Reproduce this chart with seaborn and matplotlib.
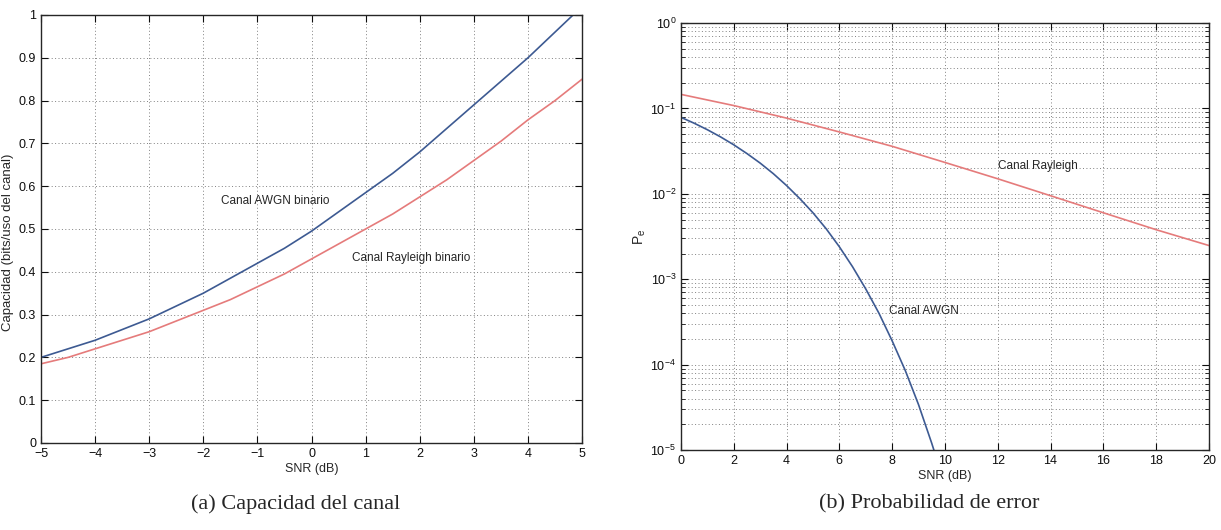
import numpy as np
import pandas as pd
import matplotlib
matplotlib.use("Agg")
import matplotlib.pyplot as plt
import seaborn as sns
from matplotlib.ticker import LogLocator, NullFormatter

# (a) capacidad del canal
snr_cap = [-5, -4.5, -4, -3.5, -3, -2.5, -2, -1.5, -1, -0.5, 0,
           0.5, 1, 1.5, 2, 2.5, 3, 3.5, 4, 4.5, 5]
cap_awgn = [0.200, 0.220, 0.240, 0.265, 0.290, 0.320, 0.350, 0.385, 0.420, 0.455, 0.495,
            0.540, 0.585, 0.630, 0.680, 0.735, 0.790, 0.845, 0.900, 0.960, 1.020]
cap_rayleigh = [0.185, 0.200, 0.220, 0.240, 0.260, 0.285, 0.310, 0.335, 0.365, 0.395, 0.430,
                0.465, 0.500, 0.535, 0.575, 0.615, 0.660, 0.705, 0.755, 0.800, 0.850]

# (b) probabilidad de error
snr_pe_awgn = [0, 0.5, 1, 1.5, 2, 2.5, 3, 3.5, 4, 4.5, 5, 5.5, 6, 6.5, 7, 7.5,
               8, 8.5, 9, 9.5, 10]
pe_awgn = [0.0786, 0.0671, 0.0563, 0.0464, 0.0375, 0.0296, 0.0229, 0.0172, 0.0125,
           0.0088, 0.0060, 0.0039, 0.0024, 0.0014, 0.00077, 0.00040, 0.00019,
           8.5e-5, 3.4e-5, 1.2e-5, 3.9e-6]
snr_pe_ray = [0, 2, 4, 6, 8, 10, 12, 14, 16, 18, 20]
pe_rayleigh = [0.146, 0.108, 0.077, 0.053, 0.036, 0.0233, 0.0150, 0.0095, 0.0060,
               0.0038, 0.00248]

blue = "#3d5a92"
red = "#e57b7b"

sns.set_style("ticks")
plt.rcParams["font.family"] = ["Liberation Sans", "DejaVu Sans"]
plt.rcParams["mathtext.fontset"] = "custom"
plt.rcParams["mathtext.rm"] = "Liberation Sans"
plt.rcParams["mathtext.it"] = "Liberation Sans"

fig = plt.figure(figsize=(12.21, 5.30), dpi=100)
ax1 = fig.add_axes([0.0336, 0.1642, 0.4431, 0.8075])
ax2 = fig.add_axes([0.5577, 0.1509, 0.4324, 0.8057])

grid_kw = dict(linestyle=(0, (1, 2.5)), color="0.5", linewidth=0.7)

# ---- panel a
df_a = pd.DataFrame({"snr": snr_cap * 2,
                     "cap": cap_awgn + cap_rayleigh,
                     "canal": ["awgn"] * len(snr_cap) + ["rayleigh"] * len(snr_cap)})
sns.lineplot(data=df_a, x="snr", y="cap", hue="canal", palette=[blue, red],
             linewidth=1.2, legend=False, ax=ax1)
ax1.set_xlim(-5, 5)
ax1.set_ylim(0, 1)
ax1.set_xticks(np.arange(-5, 6, 1))
ax1.set_yticks(np.arange(0, 1.01, 0.1))
ax1.set_xticklabels([str(v).replace("-", "\u2212") for v in range(-5, 6)])
ax1.set_yticklabels(["0", "0.1", "0.2", "0.3", "0.4", "0.5", "0.6", "0.7", "0.8", "0.9", "1"])
ax1.grid(True, which="major", **grid_kw)
ax1.set_xlabel("SNR (dB)", fontsize=9, labelpad=2)
ax1.set_ylabel("Capacidad (bits/uso del canal)", fontsize=9.5, labelpad=3)
ax1.yaxis.set_label_coords(-0.05, 0.47)
ax1.text(-1.67, 0.565, "Canal AWGN binario", fontsize=8.5, va="center", ha="left")
ax1.text(0.75, 0.433, "Canal Rayleigh binario", fontsize=8.5, va="center", ha="left")

# ---- panel b
df_b = pd.DataFrame({"snr": snr_pe_awgn + snr_pe_ray,
                     "pe": pe_awgn + pe_rayleigh,
                     "canal": ["awgn"] * len(snr_pe_awgn) + ["rayleigh"] * len(snr_pe_ray)})
sns.lineplot(data=df_b, x="snr", y="pe", hue="canal", palette=[blue, red],
             linewidth=1.2, legend=False, ax=ax2)
ax2.set_yscale("log")
ax2.set_xlim(0, 20)
ax2.set_ylim(1e-5, 1)
ax2.set_xticks(np.arange(0, 21, 2))
ax2.yaxis.set_major_locator(LogLocator(base=10, numticks=10))
ax2.yaxis.set_minor_locator(LogLocator(base=10, subs=np.arange(2, 10), numticks=20))
ax2.yaxis.set_minor_formatter(NullFormatter())
ax2.grid(True, which="major", **grid_kw)
ax2.grid(True, which="minor", axis="y", **grid_kw)
ax2.set_xlabel("SNR (dB)", fontsize=9, labelpad=2)
ax2.set_ylabel("$P_e$", fontsize=10, labelpad=2)
ax2.text(12.0, 0.021, "Canal Rayleigh", fontsize=8.5, va="center", ha="left")
ax2.text(7.9, 4.2e-4, "Canal AWGN", fontsize=8.5, va="center", ha="left")

for ax in (ax1, ax2):
    for s in ax.spines.values():
        s.set_visible(True)
        s.set_color("0.15")
        s.set_linewidth(1.0)
    ax.tick_params(which="both", direction="in", top=True, right=True,
                   labelsize=9, colors="0.05")
    ax.tick_params(which="major", length=5)
    ax.tick_params(which="minor", length=3)
    ax.set_axisbelow(True)

fig.text(0.2425, 0.049, "(a) Capacidad del canal", fontsize=16,
         family=["Liberation Serif", "DejaVu Serif"], ha="center", va="center")
fig.text(0.761, 0.049, "(b) Probabilidad de error", fontsize=16,
         family=["Liberation Serif", "DejaVu Serif"], ha="center", va="center")

fig.savefig("out.png", dpi=100)
